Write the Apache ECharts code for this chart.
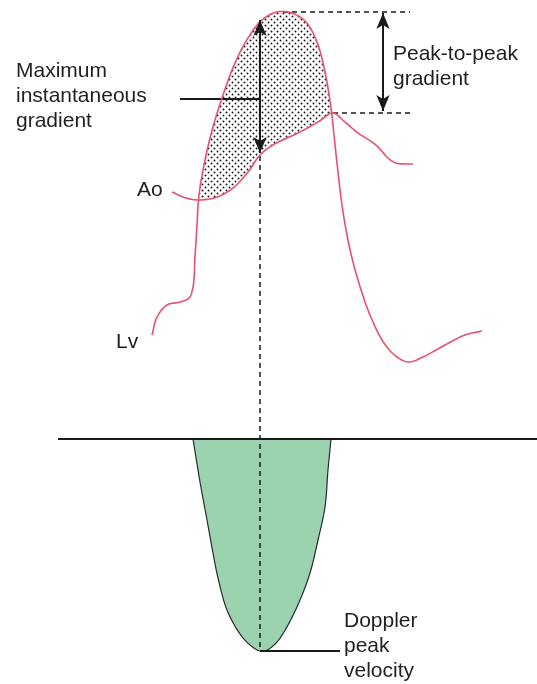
<!DOCTYPE html>
<html>
<head>
<meta charset="utf-8">
<script src="https://cdn.jsdelivr.net/npm/echarts@6/dist/echarts.min.js"></script>
<style>
  html, body { margin: 0; padding: 0; background: #fff; }
  #chart { width: 537px; height: 684px; }
</style>
</head>
<body>
<div id="chart"></div>
<script>
// Time runs left to right; the vertical scale grows downward (screen-like units).
// Left ventricular pressure trace
const lvX = [152,157,167,180,189,193,195,197,199,205,213,223,235,248,262,277,292,306,317,325,331,334,337,342,349,358,370,384,397,409,423,445,465,482];
const lvY = [335,317,305,302,298,287,257,225,195,160,127,95,63,38,20,12,13,22,42,72,108,135,163,205,245,280,315,343,357,362,357,345,335,331];

// Aortic pressure trace
const aoX = [172,186,200,217,233,248,260,273,300,318,333,345,358,372,379,388,396,405,413];
const aoY = [192,198,200,197,188,172,155,145,132,122,113,122,133,142,148,158,163,164,164];

// Doppler velocity envelope below the baseline
const dopX = [193,200,207,213,218,227,240,250,260,267,277,288,300,310,318,325,328,331];
const dopY = [439,482,520,553,578,610,634,645,651,650,642,625,600,573,540,507,470,439];

const baselineY = 439;
const peakTime = 260;          // time of maximum instantaneous gradient
const lvPeak = [283, 12];
const crossPoint = [333, 113]; // Lv and Ao cross; aortic peak
const shadeFrom = 199, shadeTo = 333;

const pink = '#ec4f6c';
const ink = '#1a1a1a';

const zip = (xs, ys) => xs.map((x, i) => [x, ys[i]]);
const lvData = zip(lvX, lvY);
const aoData = zip(aoX, aoY);
const dopData = zip(dopX, dopY);

// centripetal Catmull-Rom through pixel points
function spline(pts, n) {
  n = n || 10;
  const out = [pts[0]];
  const d = (a, b) => Math.pow(Math.hypot(b[0] - a[0], b[1] - a[1]), 0.5) || 1e-4;
  for (let i = 0; i < pts.length - 1; i++) {
    const p1 = pts[i], p2 = pts[i + 1];
    const p0 = i > 0 ? pts[i - 1] : [2 * p1[0] - p2[0], 2 * p1[1] - p2[1]];
    const p3 = i + 2 < pts.length ? pts[i + 2] : [2 * p2[0] - p1[0], 2 * p2[1] - p1[1]];
    const t0 = 0, t1 = t0 + d(p0, p1), t2 = t1 + d(p1, p2), t3 = t2 + d(p2, p3);
    for (let k = 1; k <= n; k++) {
      const t = t1 + (t2 - t1) * k / n;
      const L = (a, b, ta, tb) => [
        ((tb - t) * a[0] + (t - ta) * b[0]) / (tb - ta),
        ((tb - t) * a[1] + (t - ta) * b[1]) / (tb - ta)
      ];
      const A1 = L(p0, p1, t0, t1), A2 = L(p1, p2, t1, t2), A3 = L(p2, p3, t2, t3);
      const B1 = L(A1, A2, t0, t2), B2 = L(A2, A3, t1, t3);
      out.push(L(B1, B2, t1, t2));
    }
  }
  return out;
}

// dotted fill tile
const tile = document.createElement('canvas');
tile.width = 6; tile.height = 6;
const tc = tile.getContext('2d');
tc.fillStyle = '#111';
[[1.5, 1.5], [4.5, 4.5]].forEach(([cx, cy]) => {
  tc.beginPath(); tc.arc(cx, cy, 0.95, 0, Math.PI * 2); tc.fill();
});

const dashed = { color: ink, width: 1.5, type: [5, 4] };
const solid = { color: ink, width: 2, type: 'solid' };

function seg(data, style) {
  return { type: 'line', data, showSymbol: false, symbol: 'none', silent: true,
           lineStyle: style, animation: false, z: 3 };
}

function curveSeries(data, z, build) {
  return { type: 'custom', silent: true, z, data: [0], clip: false,
           renderItem: (params, api) => build(spline(data.map(p => api.coord(p)), 12), api) };
}

const chart = echarts.init(document.getElementById('chart'), null, { renderer: 'canvas' });
const txt = { fontFamily: 'Liberation Sans, Arial, sans-serif', fontSize: 21, fill: '#231f20', lineHeight: 25 };

chart.setOption({
  animation: false,
  grid: { left: 0, right: 0, top: 0, bottom: 0 },
  xAxis: { type: 'value', min: 0, max: 537, show: false },
  yAxis: { type: 'value', min: 0, max: 684, inverse: true, show: false },
  series: [
    // dotted region where Lv pressure exceeds Ao pressure
    {
      type: 'custom', silent: true, z: 1, data: [0],
      renderItem: (params, api) => {
        const x0 = api.coord([shadeFrom, 0])[0], x1 = api.coord([shadeTo, 0])[0];
        const yCut = api.coord([0, 200])[1];
        const lvPx = spline(lvData.map(p => api.coord(p)), 12)
          .filter(p => p[0] >= x0 && p[0] <= x1 && p[1] <= yCut);
        const aoPx = spline(aoData.map(p => api.coord(p)), 12)
          .filter(p => p[0] >= x0 && p[0] <= x1).reverse();
        return { type: 'polygon', shape: { points: lvPx.concat(aoPx) },
                 style: { fill: { image: tile, repeat: 'repeat' }, stroke: null } };
      }
    },
    // Doppler envelope
    curveSeries(dopData, 2, pts => ({
      type: 'group', children: [
        { type: 'polygon', shape: { points: pts }, style: { fill: '#9bd3b1', stroke: null } },
        { type: 'polyline', shape: { points: pts }, style: { stroke: '#2a2a2a', lineWidth: 1.2, fill: null } }
      ]
    })),
    seg([[58, baselineY], [537, baselineY]], solid),
    seg([[peakTime, 156], [peakTime, 651]], dashed),
    seg([[lvPeak[0], lvPeak[1]], [410, lvPeak[1]]], dashed),
    seg([[crossPoint[0], crossPoint[1]], [410, crossPoint[1]]], dashed),
    seg([[180, 99], [peakTime, 99]], solid),
    seg([[peakTime, 651], [340, 651]], solid),
    curveSeries(lvData, 4, pts => ({
      type: 'polyline', shape: { points: pts }, style: { stroke: pink, lineWidth: 1.6, fill: null }
    })),
    curveSeries(aoData, 4, pts => ({
      type: 'polyline', shape: { points: pts }, style: { stroke: pink, lineWidth: 1.6, fill: null }
    })),
    {
      type: 'line', data: [], silent: true, z: 5,
      markLine: {
        silent: true, animation: false,
        symbol: ['arrow', 'arrow'], symbolSize: [10, 16],
        label: { show: false },
        lineStyle: { color: ink, width: 2, type: 'solid' },
        data: [
          [{ coord: [peakTime, 20] }, { coord: [peakTime, 153] }],
          [{ coord: [383, 13] }, { coord: [383, 111] }]
        ]
      }
    }
  ],
  graphic: [
    { type: 'text', left: 16, top: 59, style: Object.assign({ text: 'Maximum\ninstantaneous\ngradient' }, txt) },
    { type: 'text', left: 137, top: 178, style: Object.assign({ text: 'Ao' }, txt) },
    { type: 'text', left: 116, top: 330, style: Object.assign({ text: 'Lv' }, txt) },
    { type: 'text', left: 393, top: 42, style: Object.assign({ text: 'Peak-to-peak\ngradient' }, txt) },
    { type: 'text', left: 344, top: 609, style: Object.assign({ text: 'Doppler\npeak\nvelocity' }, txt) }
  ]
});
</script>
</body>
</html>
